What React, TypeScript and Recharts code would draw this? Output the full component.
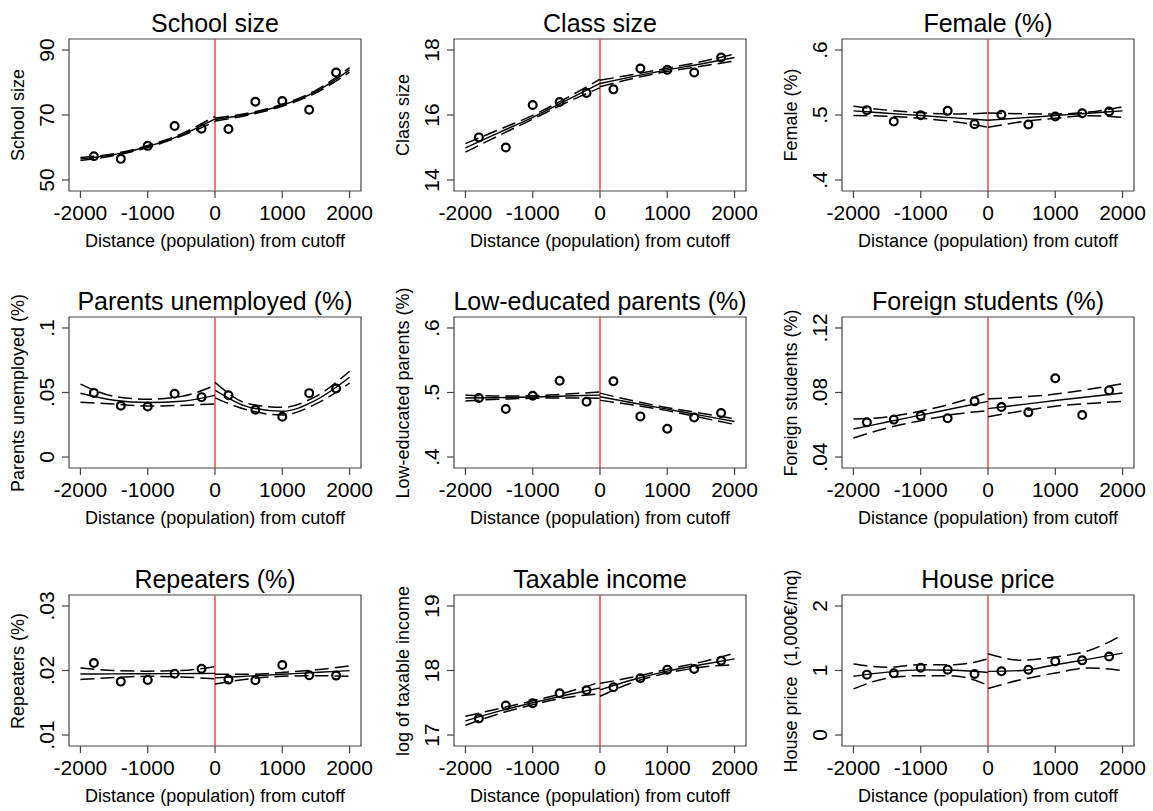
import React from "react";
import {
  ComposedChart,
  Line,
  Scatter,
  XAxis,
  YAxis,
  ReferenceLine,
  ReferenceArea,
} from "recharts";

const binX = [-1800, -1400, -1000, -600, -200, 200, 600, 1000, 1400, 1800];
const fitXLeft = [-2000, -1500, -1000, -500, 0];
const fitXRight = [0, 500, 1000, 1500, 2000];
const xTicks = [-2000, -1000, 0, 1000, 2000];
const xLabel = "Distance (population) from cutoff";

// School size
const schoolTicks = [50, 70, 90];
const schoolBins = [57.3, 56.5, 60.5, 66.6, 65.8, 65.7, 74.1, 74.3, 71.6, 83.1];
const schoolFitL = [56.5, 57.8, 60.3, 63.8, 68.8];
const schoolUpL = [56.9, 58.1, 60.6, 64.2, 69.6];
const schoolLoL = [56.0, 57.5, 60.0, 63.5, 68.0];
const schoolFitR = [68.6, 70.3, 73.0, 77.2, 83.9];
const schoolUpR = [69.1, 70.6, 73.3, 77.6, 84.6];
const schoolLoR = [68.1, 70.0, 72.7, 76.8, 83.2];

// Class size
const classTicks = [14, 16, 18];
const classBins = [15.31, 15.0, 16.31, 16.4, 16.68, 16.79, 17.43, 17.39, 17.31, 17.77];
const classFitL = [14.99, 15.46, 15.93, 16.45, 16.97];
const classUpL = [15.12, 15.55, 15.99, 16.52, 17.1];
const classLoL = [14.86, 15.37, 15.87, 16.38, 16.84];
const classFitR = [16.97, 17.19, 17.39, 17.57, 17.77];
const classUpR = [17.07, 17.25, 17.44, 17.64, 17.88];
const classLoR = [16.87, 17.13, 17.34, 17.5, 17.66];

// Female (%)
const femaleTicks = [0.4, 0.5, 0.6];
const femaleBins = [0.5075, 0.49, 0.4998, 0.5064, 0.4859, 0.5003, 0.4854, 0.4977, 0.5028, 0.5054];
const femaleFitL = [0.5064, 0.5028, 0.4992, 0.4956, 0.492];
const femaleUpL = [0.5135, 0.5075, 0.5035, 0.5015, 0.503];
const femaleLoL = [0.4993, 0.4981, 0.4949, 0.4897, 0.481];
const femaleFitR = [0.492, 0.4956, 0.4992, 0.5028, 0.5064];
const femaleUpR = [0.503, 0.502, 0.5015, 0.5045, 0.5125];
const femaleLoR = [0.481, 0.4895, 0.495, 0.499, 0.4965];

// Parents unemployed (%)
const unempTicks = [0, 0.05, 0.1];
const unempBins = [0.0497, 0.0397, 0.0392, 0.049, 0.0464, 0.0479, 0.0366, 0.0312, 0.0495, 0.0531];
const unempFitL = [0.0494, 0.044, 0.0422, 0.0432, 0.0478];
const unempUpL = [0.0565, 0.047, 0.0448, 0.047, 0.0555];
const unempLoL = [0.0425, 0.041, 0.0395, 0.04, 0.0412];
const unempFitR = [0.0518, 0.0387, 0.0355, 0.0441, 0.0618];
const unempUpR = [0.0578, 0.0412, 0.0385, 0.047, 0.0665];
const unempLoR = [0.0458, 0.0362, 0.0325, 0.0412, 0.0572];

// Low-educated parents (%)
const loweduTicks = [0.4, 0.5, 0.6];
const loweduBins = [0.4914, 0.4744, 0.495, 0.5183, 0.4857, 0.5173, 0.463, 0.4439, 0.4614, 0.4682];
const loweduFitL = [0.4914, 0.492, 0.493, 0.4945, 0.496];
const loweduUpL = [0.496, 0.4945, 0.495, 0.4975, 0.501];
const loweduLoL = [0.487, 0.4895, 0.491, 0.4915, 0.491];
const loweduFitR = [0.4935, 0.4838, 0.4742, 0.4646, 0.455];
const loweduUpR = [0.499, 0.487, 0.4765, 0.468, 0.4595];
const loweduLoR = [0.488, 0.4806, 0.4719, 0.4612, 0.4505];

// Foreign students (%)
const foreignTicks = [0.04, 0.08, 0.12];
const foreignBins = [0.0615, 0.0632, 0.0656, 0.064, 0.0745, 0.071, 0.0677, 0.0888, 0.066, 0.0813];
const foreignFitL = [0.0574, 0.0617, 0.066, 0.0702, 0.0745];
const foreignUpL = [0.0636, 0.0648, 0.0685, 0.0735, 0.08];
const foreignLoL = [0.0518, 0.058, 0.0625, 0.0665, 0.0688];
const foreignFitR = [0.07, 0.0725, 0.075, 0.0774, 0.0797];
const foreignUpR = [0.076, 0.0772, 0.079, 0.082, 0.0855];
const foreignLoR = [0.065, 0.0685, 0.0715, 0.0732, 0.0745];

// Repeaters (%)
const repTicks = [0.01, 0.02, 0.03];
const repBins = [0.02116, 0.01828, 0.01854, 0.01951, 0.02028, 0.01859, 0.01849, 0.02085, 0.01926, 0.01921];
const repFitL = [0.01945, 0.01948, 0.0195, 0.01952, 0.01955];
const repUpL = [0.0204, 0.02, 0.0199, 0.02, 0.0206];
const repLoL = [0.0186, 0.0189, 0.0191, 0.019, 0.0187];
const repFitR = [0.01885, 0.01913, 0.01941, 0.0197, 0.01998];
const repUpR = [0.0194, 0.0194, 0.0197, 0.0201, 0.0207];
const repLoR = [0.0179, 0.0187, 0.0191, 0.0192, 0.0191];

// Taxable income
const incomeTicks = [17, 18, 19];
const incomeBins = [17.257, 17.458, 17.494, 17.648, 17.694, 17.74, 17.879, 18.013, 18.023, 18.152];
const incomeFitL = [17.22, 17.37, 17.5, 17.62, 17.73];
const incomeUpL = [17.29, 17.41, 17.53, 17.66, 17.82];
const incomeLoL = [17.15, 17.33, 17.47, 17.58, 17.64];
const incomeFitR = [17.7, 17.86, 17.99, 18.09, 18.18];
const incomeUpR = [17.8, 17.9, 18.02, 18.13, 18.27];
const incomeLoR = [17.6, 17.82, 17.96, 18.05, 18.09];

// House price
const houseTicks = [0, 1, 2];
const houseBins = [0.936, 0.956, 1.044, 1.013, 0.946, 0.987, 1.013, 1.141, 1.157, 1.218];
const houseFitL = [0.91, 0.975, 1.01, 1.005, 0.97];
const houseUpL = [1.1, 1.05, 1.09, 1.09, 1.18];
const houseLoL = [0.715, 0.88, 0.92, 0.915, 0.77];
const houseFitR = [0.987, 1.0, 1.09, 1.177, 1.27];
const houseUpR = [1.26, 1.16, 1.21, 1.31, 1.55];
const houseLoR = [0.72, 0.86, 0.96, 1.04, 1.0];

const FONT = '"Liberation Sans", Arial, Helvetica, sans-serif';
const COL_LEFT = [69, 454, 842];
const ROW_TOP = [39, 317, 595];
const ROW_H = [152, 151, 151];
const BOX_W = 292;
const X_DOMAIN = [-2170, 2170];
const TICK_FONT = 21;

const pts = (xs: number[], ys: number[]) => xs.map((x, i) => ({ x, y: ys[i] }));

const makePanel = (
  title: string,
  yLabel: string,
  ticks: number[],
  bins: number[],
  fitL: number[],
  upL: number[],
  loL: number[],
  fitR: number[],
  upR: number[],
  loR: number[]
) => ({
  title,
  yLabel,
  ticks,
  bins: pts(binX, bins),
  fitL: pts(fitXLeft, fitL),
  upL: pts(fitXLeft, upL),
  loL: pts(fitXLeft, loL),
  fitR: pts(fitXRight, fitR),
  upR: pts(fitXRight, upR),
  loR: pts(fitXRight, loR),
});

const panels = [
  makePanel("School size", "School size", schoolTicks, schoolBins, schoolFitL, schoolUpL, schoolLoL, schoolFitR, schoolUpR, schoolLoR),
  makePanel("Class size", "Class size", classTicks, classBins, classFitL, classUpL, classLoL, classFitR, classUpR, classLoR),
  makePanel("Female (%)", "Female (%)", femaleTicks, femaleBins, femaleFitL, femaleUpL, femaleLoL, femaleFitR, femaleUpR, femaleLoR),
  makePanel("Parents unemployed (%)", "Parents unemployed (%)", unempTicks, unempBins, unempFitL, unempUpL, unempLoL, unempFitR, unempUpR, unempLoR),
  makePanel("Low-educated parents (%)", "Low-educated parents (%)", loweduTicks, loweduBins, loweduFitL, loweduUpL, loweduLoL, loweduFitR, loweduUpR, loweduLoR),
  makePanel("Foreign students (%)", "Foreign students (%)", foreignTicks, foreignBins, foreignFitL, foreignUpL, foreignLoL, foreignFitR, foreignUpR, foreignLoR),
  makePanel("Repeaters (%)", "Repeaters (%)", repTicks, repBins, repFitL, repUpL, repLoL, repFitR, repUpR, repLoR),
  makePanel("Taxable income", "log of taxable income", incomeTicks, incomeBins, incomeFitL, incomeUpL, incomeLoL, incomeFitR, incomeUpR, incomeLoR),
  makePanel("House price", "House price  (1,000€/mq)", houseTicks, houseBins, houseFitL, houseUpL, houseLoL, houseFitR, houseUpR, houseLoR),
];

// stata style: drop the leading zero
const fmt = (v: number) => {
  const s = String(v);
  return s.startsWith("0.") ? s.slice(1) : s;
};

const XTick = (props: any) => {
  const { x, y, payload } = props;
  return (
    <text x={x} y={y} dy="0.36em" textAnchor="middle" fontSize={TICK_FONT} fontFamily={FONT} fill="#000">
      {payload.value}
    </text>
  );
};

const YTick = (props: any) => {
  const { x, y, payload } = props;
  return (
    <text
      x={x}
      y={y}
      dy="0.36em"
      textAnchor="middle"
      fontSize={TICK_FONT}
      fontFamily={FONT}
      fill="#000"
      transform={`rotate(-90 ${x} ${y})`}
    >
      {fmt(payload.value)}
    </text>
  );
};

const Ring = (props: any) => (
  <circle cx={props.cx} cy={props.cy} r={3.9} fill="none" stroke="#000" strokeWidth={2.2} />
);

const Panel = ({ p, idx }: { p: any; idx: number }) => {
  const col = idx % 3;
  const row = Math.floor(idx / 3);
  const bx = COL_LEFT[col];
  const by = ROW_TOP[row];
  const bw = BOX_W;
  const bh = ROW_H[row];
  const lo = p.ticks[0];
  const hi = p.ticks[p.ticks.length - 1];
  const pad = (hi - lo) * 0.085;
  const yDomain = [lo - pad, hi + pad];

  const solid = { stroke: "#000", strokeWidth: 1.4, dot: false, type: "monotone" as const, isAnimationActive: false };
  const dashed = { ...solid, strokeWidth: 1.5, strokeDasharray: "14 6" };

  return (
    <>
      <div
        style={{
          position: "absolute",
          left: bx + bw / 2,
          top: by - 16.5,
          transform: "translate(-50%, -50%)",
          fontSize: 25,
          lineHeight: 1,
          whiteSpace: "nowrap",
          fontFamily: FONT,
        }}
      >
        {p.title}
      </div>
      <div
        style={{
          position: "absolute",
          left: bx - 51,
          top: by + bh / 2,
          transform: "translate(-50%, -50%) rotate(-90deg)",
          fontSize: 18,
          lineHeight: 1,
          whiteSpace: "pre",
          fontFamily: FONT,
        }}
      >
        {p.yLabel}
      </div>
      <div
        style={{
          position: "absolute",
          left: bx + bw / 2,
          top: by + bh + 50,
          transform: "translate(-50%, -50%)",
          fontSize: 18,
          lineHeight: 1,
          whiteSpace: "nowrap",
          fontFamily: FONT,
        }}
      >
        {xLabel}
      </div>
      <div style={{ position: "absolute", left: bx - 60, top: by - 10 }}>
        <ComposedChart width={bw + 90} height={bh + 50} margin={{ top: 10, right: 30, bottom: 0, left: 0 }}>
          <XAxis
            type="number"
            dataKey="x"
            domain={X_DOMAIN}
            ticks={xTicks}
            interval={0}
            allowDataOverflow
            height={40}
            axisLine={false}
            tickLine={{ stroke: "#444", strokeWidth: 1.2 }}
            tickSize={7}
            tickMargin={14}
            tick={<XTick />}
          />
          <YAxis
            type="number"
            domain={yDomain}
            ticks={p.ticks}
            interval={0}
            allowDataOverflow
            width={60}
            axisLine={false}
            tickLine={{ stroke: "#444", strokeWidth: 1.2 }}
            tickSize={7}
            tickMargin={16}
            tick={<YTick />}
          />
          <ReferenceLine x={0} stroke="#ec4b4b" strokeWidth={1.5} ifOverflow="visible" />
          <Line data={p.upL} dataKey="y" {...dashed} />
          <Line data={p.loL} dataKey="y" {...dashed} />
          <Line data={p.fitL} dataKey="y" {...solid} />
          <Line data={p.upR} dataKey="y" {...dashed} />
          <Line data={p.loR} dataKey="y" {...dashed} />
          <Line data={p.fitR} dataKey="y" {...solid} />
          <Scatter data={p.bins} dataKey="y" shape={Ring} isAnimationActive={false} />
          <ReferenceArea
            x1={X_DOMAIN[0]}
            x2={X_DOMAIN[1]}
            y1={yDomain[0]}
            y2={yDomain[1]}
            fill="none"
            stroke="#444"
            strokeWidth={1.2}
            ifOverflow="visible"
          />
        </ComposedChart>
      </div>
    </>
  );
};

export default function App() {
  return (
    <div
      style={{
        position: "absolute",
        left: 0,
        top: 0,
        width: 1153,
        height: 811,
        background: "#fff",
        color: "#000",
      }}
    >
      {panels.map((p, i) => (
        <Panel key={p.title} p={p} idx={i} />
      ))}
    </div>
  );
}
